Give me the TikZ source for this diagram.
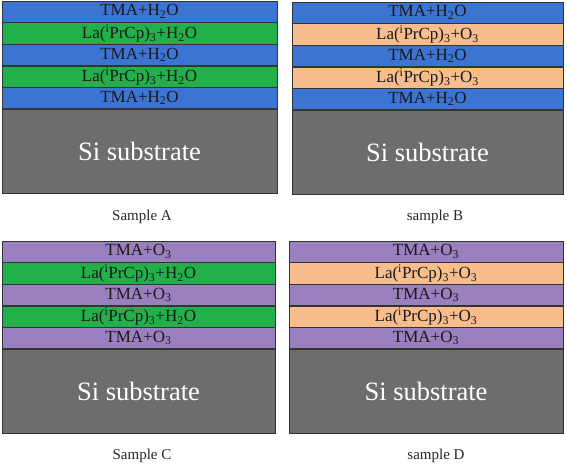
\documentclass[tikz,border=0pt]{standalone}
\usepackage{fontspec}
\setmainfont{Liberation Serif}
\usetikzlibrary{positioning}

\definecolor{tmablue}{HTML}{3C74D4}
\definecolor{lagreen}{HTML}{22B04B}
\definecolor{lapeach}{HTML}{F8BD8C}
\definecolor{tmapurple}{HTML}{9A80BF}
\definecolor{sigray}{HTML}{6D6D6D}
\definecolor{edge}{HTML}{333333}

\tikzset{
  layer/.style={draw=edge,thin,inner sep=0pt,minimum height=21.2pt,text=black!90,font=\fontsize{17}{17}\selectfont},
  tmah/.style={layer,fill=tmablue},
  tmao/.style={layer,fill=tmapurple},
  lah/.style={layer,fill=lagreen},
  lao/.style={layer,fill=lapeach},
  substrate/.style={draw=edge,thin,fill=sigray,inner sep=0pt,text=white,font=\fontsize{26.5}{26.5}\selectfont},
  caption/.style={font=\fontsize{15}{15}\selectfont,text=black!85}
}

\begin{document}
\begin{tikzpicture}[x=1pt,y=1pt]
\useasboundingbox (0,0) rectangle (567,466);

% Sample A
\node[tmah,minimum width=275pt] (a1) at (139.5,454.4) {TMA+H\textsubscript{2}O};
\node[lah,minimum width=275pt,below=0pt of a1] (a2) {La(\textsuperscript{i}PrCp)\textsubscript{3}+H\textsubscript{2}O};
\node[tmah,minimum width=275pt,below=0pt of a2] (a3) {TMA+H\textsubscript{2}O};
\node[lah,minimum width=275pt,below=0pt of a3] (a4) {La(\textsuperscript{i}PrCp)\textsubscript{3}+H\textsubscript{2}O};
\node[tmah,minimum width=275pt,below=0pt of a4] (a5) {TMA+H\textsubscript{2}O};
\node[substrate,minimum width=275pt,minimum height=84pt,below=0pt of a5] (asub) {Si substrate};
\node[caption] (acap) at (142,249) {Sample A};

% sample B
\node[tmah,minimum width=271pt] (b1) at (427.5,453.4) {TMA+H\textsubscript{2}O};
\node[lao,minimum width=271pt,below=0pt of b1] (b2) {La(\textsuperscript{i}PrCp)\textsubscript{3}+O\textsubscript{3}};
\node[tmah,minimum width=271pt,below=0pt of b2] (b3) {TMA+H\textsubscript{2}O};
\node[lao,minimum width=271pt,below=0pt of b3] (b4) {La(\textsuperscript{i}PrCp)\textsubscript{3}+O\textsubscript{3}};
\node[tmah,minimum width=271pt,below=0pt of b4] (b5) {TMA+H\textsubscript{2}O};
\node[substrate,minimum width=271pt,minimum height=84pt,below=0pt of b5] (bsub) {Si substrate};
\node[caption] (bcap) at (435,249) {sample B};

% Sample C
\node[tmao,minimum width=273pt] (c1) at (138.5,214.4) {TMA+O\textsubscript{3}};
\node[lah,minimum width=273pt,below=0pt of c1] (c2) {La(\textsuperscript{i}PrCp)\textsubscript{3}+H\textsubscript{2}O};
\node[tmao,minimum width=273pt,below=0pt of c2] (c3) {TMA+O\textsubscript{3}};
\node[lah,minimum width=273pt,below=0pt of c3] (c4) {La(\textsuperscript{i}PrCp)\textsubscript{3}+H\textsubscript{2}O};
\node[tmao,minimum width=273pt,below=0pt of c4] (c5) {TMA+O\textsubscript{3}};
\node[substrate,minimum width=273pt,minimum height=84pt,below=0pt of c5] (csub) {Si substrate};
\node[caption] (ccap) at (142,10) {Sample C};

% sample D
\node[tmao,minimum width=274pt] (d1) at (426,214.4) {TMA+O\textsubscript{3}};
\node[lao,minimum width=274pt,below=0pt of d1] (d2) {La(\textsuperscript{i}PrCp)\textsubscript{3}+O\textsubscript{3}};
\node[tmao,minimum width=274pt,below=0pt of d2] (d3) {TMA+O\textsubscript{3}};
\node[lao,minimum width=274pt,below=0pt of d3] (d4) {La(\textsuperscript{i}PrCp)\textsubscript{3}+O\textsubscript{3}};
\node[tmao,minimum width=274pt,below=0pt of d4] (d5) {TMA+O\textsubscript{3}};
\node[substrate,minimum width=274pt,minimum height=84pt,below=0pt of d5] (dsub) {Si substrate};
\node[caption] (dcap) at (436,10) {sample D};

\end{tikzpicture}
\end{document}
